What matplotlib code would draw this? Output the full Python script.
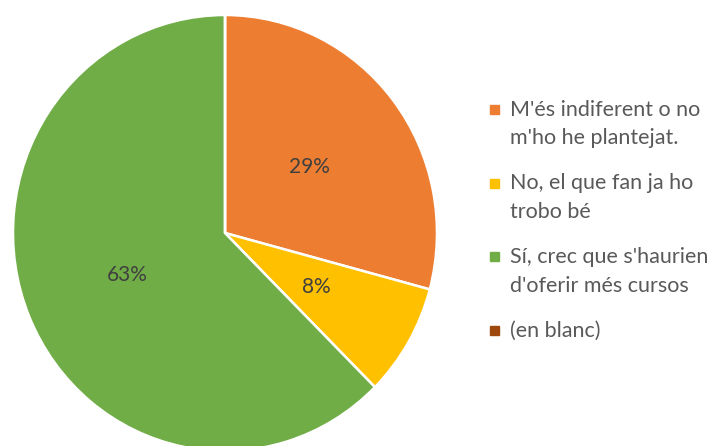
import matplotlib.pyplot as plt
from matplotlib.patches import Rectangle

# survey answers (counts), in Excel's order
labels = ["M'és indiferent o no\nm'ho he plantejat.",
          "No, el que fan ja ho\ntrobo bé",
          "Sí, crec que s'haurien\nd'oferir més cursos",
          "(en blanc)"]
counts = [14, 4, 30, 0]
colors = ['#ED7D31', '#FFC000', '#70AD47', '#9E480E']

plt.rcParams['font.family'] = ['Lato', 'DejaVu Sans']

W, H = 708, 446
fig = plt.figure(figsize=(W / 100, H / 100), dpi=100)

# pie axes: the original is slightly stretched vertically (x 13-437, y 15-451)
ax = fig.add_axes([13 / W, (H - 451) / H, 424 / W, 436 / H])


def pct(p):
    return f'{int(p + 0.5)}%' if p > 0 else ''


wedges, texts, autotexts = ax.pie(
    counts, colors=colors, startangle=90, counterclock=False,
    autopct=pct, pctdistance=0.5, radius=1,
    wedgeprops=dict(edgecolor='white', linewidth=1.8),
    textprops=dict(color='#404040', fontsize=15))
ax.set_xlim(-1, 1)
ax.set_ylim(-1, 1)
ax.set_aspect('auto')
ax.axis('off')

# legend drawn by hand so the square sits on the first line (like Excel)
y0, step, line_h = 109.5, 73.5, 28
for i, (lab, col) in enumerate(zip(labels, colors)):
    yc = y0 + i * step
    fig.patches.append(Rectangle((490 / W, (H - yc - 4.5) / H), 9 / W, 9 / H,
                                 transform=fig.transFigure, color=col))
    n_extra = lab.count('\n')
    yb = yc + 7 + n_extra * line_h   # baseline of last line
    fig.text(510 / W, (H - yb) / H, lab, fontsize=15.5, color='#595959',
             va='baseline', ha='left', linespacing=1.55)

fig.savefig('out.png', dpi=100)
